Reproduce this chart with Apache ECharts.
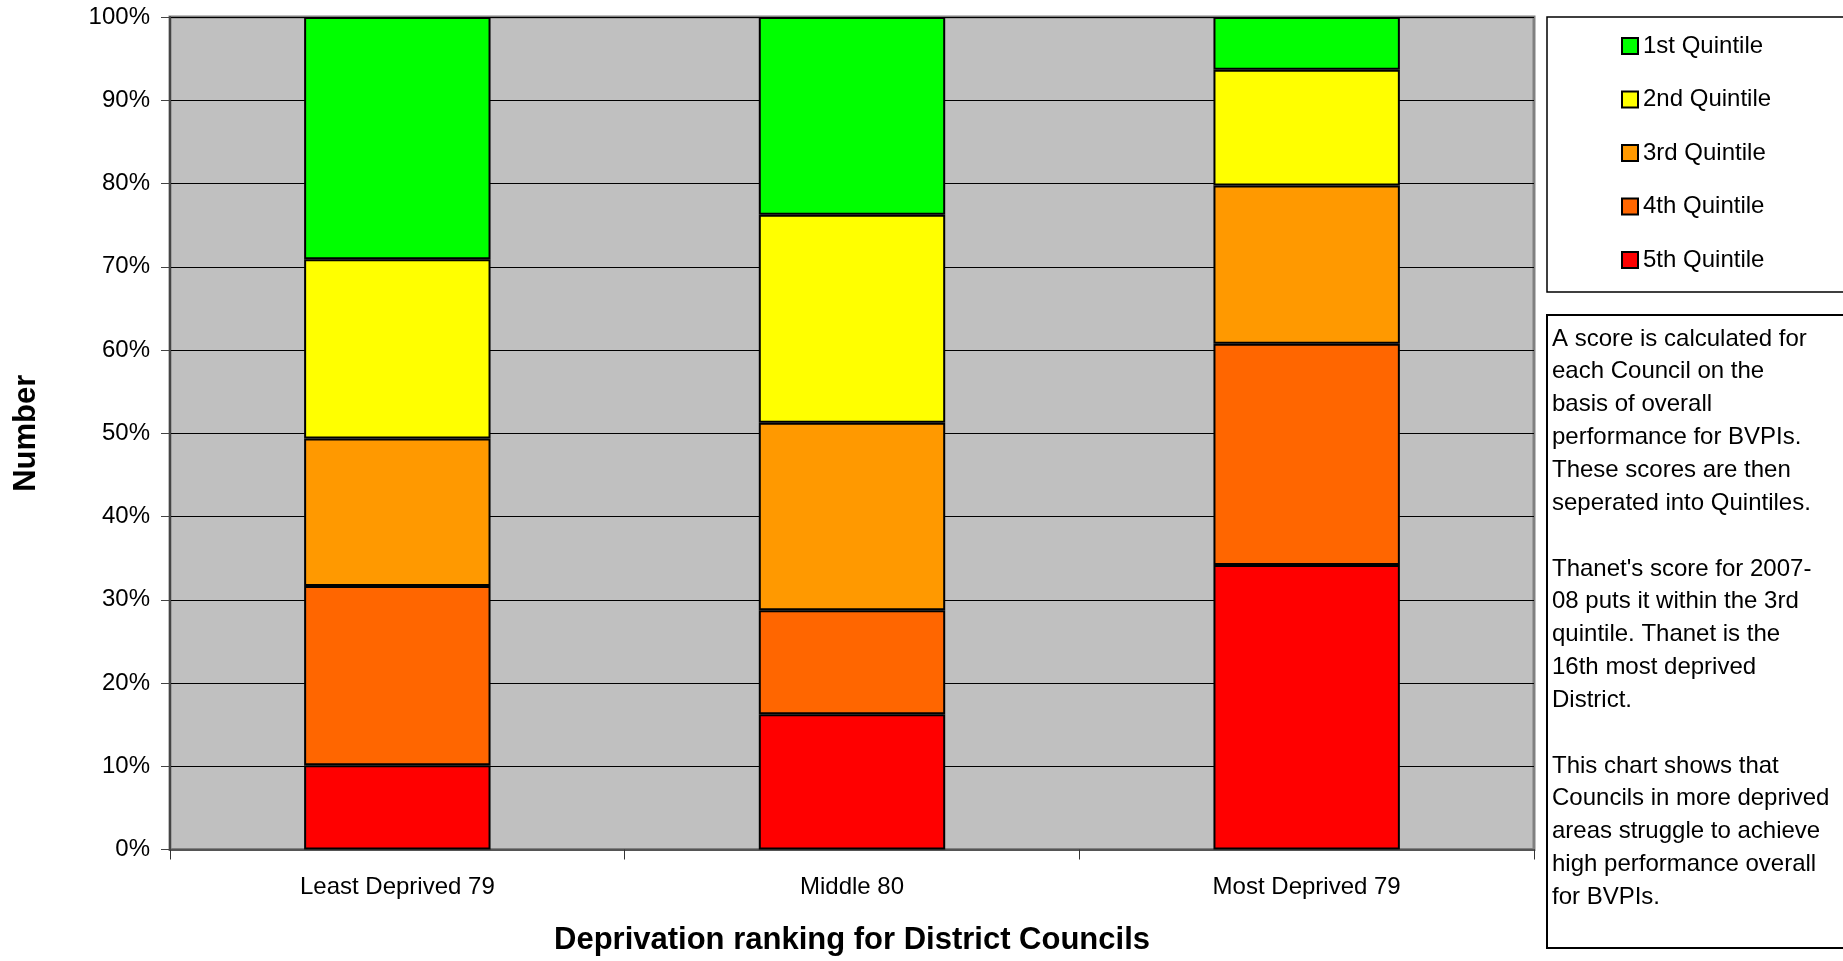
<!DOCTYPE html>
<html>
<head>
<meta charset="utf-8">
<title>Deprivation ranking for District Councils</title>
<script src="https://cdn.jsdelivr.net/npm/echarts@6/dist/echarts.min.js"></script>
<style>
  html, body { margin: 0; padding: 0; background: #ffffff; }
  #chart { width: 1843px; height: 961px; }
</style>
</head>
<body>
<div id="chart"></div>
<script>
// Deprivation groups of District Councils
var categories = ['Least Deprived 79', 'Middle 80', 'Most Deprived 79'];

// Number of councils in each performance quintile, per deprivation group
var quintileNames = ['1st Quintile', '2nd Quintile', '3rd Quintile', '4th Quintile', '5th Quintile'];
var q1 = [23, 19, 5];
var q2 = [17, 20, 11];
var q3 = [14, 18, 15];
var q4 = [17, 10, 21];
var q5 = [8, 13, 27];
var quintileColors = ['#00FF00', '#FFFF00', '#FF9900', '#FF6600', '#FF0000'];

var noteText = [
  'A score is calculated for',
  'each Council on the',
  'basis of overall',
  'performance for BVPIs.',
  'These scores are then',
  'seperated into Quintiles.',
  '',
  "Thanet's score for 2007-",
  '08 puts it within the 3rd',
  'quintile. Thanet is the',
  '16th most deprived',
  'District.',
  '',
  'This chart shows that',
  'Councils in more deprived',
  'areas struggle to achieve',
  'high performance overall',
  'for BVPIs.'
];

var counts = [q1, q2, q3, q4, q5];
var totals = categories.map(function (_, i) {
  return counts.reduce(function (s, arr) { return s + arr[i]; }, 0);
});
function shares(arr) {
  return arr.map(function (v, i) { return v / totals[i] * 100; });
}

var FONT = '"Liberation Sans", Arial, sans-serif';

// stacked bottom-up: 5th quintile at the base, 1st on top
var series = [];
for (var k = counts.length - 1; k >= 0; k--) {
  series.push({
    name: quintileNames[k],
    type: 'bar',
    stack: 'share',
    barWidth: '41%',
    data: shares(counts[k]),
    itemStyle: { color: quintileColors[k], borderColor: '#000000', borderWidth: 2 }
  });
}

var chart = echarts.init(document.getElementById('chart'), null, { renderer: 'canvas' });
chart.setOption({
  animation: false,
  backgroundColor: '#ffffff',
  textStyle: { fontFamily: FONT, color: '#000' },
  grid: {
    left: 170, right: 309, top: 17, bottom: 111,
    show: true, backgroundColor: '#C0C0C0', borderColor: '#808080', borderWidth: 3
  },
  xAxis: {
    type: 'category',
    data: categories,
    name: 'Deprivation ranking for District Councils',
    nameLocation: 'middle',
    nameGap: 75.5,
    nameTextStyle: { fontFamily: FONT, fontSize: 31, fontWeight: 'bold', color: '#000' },
    axisLine: { lineStyle: { color: '#555555', width: 2 } },
    axisTick: { show: true, length: 10, lineStyle: { color: '#333', width: 1 } },
    axisLabel: { fontFamily: FONT, fontSize: 24, color: '#000', margin: 25.5 },
    splitLine: { show: false }
  },
  yAxis: {
    type: 'value',
    min: 0, max: 100, interval: 10,
    name: 'Number',
    nameLocation: 'middle',
    nameRotate: 90,
    nameGap: 128,
    nameTextStyle: { fontFamily: FONT, fontSize: 31, fontWeight: 'bold', color: '#000' },
    axisLine: { show: true, lineStyle: { color: '#444444', width: 2 } },
    axisTick: { show: true, length: 9, lineStyle: { color: '#444', width: 1 } },
    axisLabel: { fontFamily: FONT, fontSize: 24, color: '#000', margin: 20, formatter: '{value}%' },
    splitLine: { show: true, lineStyle: { color: '#000000', width: 1 } }
  },
  legend: {
    orient: 'vertical',
    left: 1616,
    top: 29,
    data: quintileNames,
    icon: 'rect',
    itemWidth: 16,
    itemHeight: 16,
    itemGap: 29.5,
    selectedMode: false,
    textStyle: { fontFamily: FONT, fontSize: 24, color: '#000' }
  },
  graphic: [
    {
      type: 'rect', z: 0,
      shape: { x: 1547, y: 17, width: 320, height: 275 },
      style: { fill: '#ffffff', stroke: '#000000', lineWidth: 1.5 }
    },
    {
      type: 'rect', z: 0,
      shape: { x: 1547, y: 315, width: 320, height: 633 },
      style: { fill: '#ffffff', stroke: '#000000', lineWidth: 2 }
    },
    {
      type: 'text', z: 1,
      x: 1552, y: 322.5,
      style: {
        text: noteText.join('\n'),
        font: '24px ' + FONT,
        fill: '#000',
        lineHeight: 32.85
      }
    }
  ],
  series: series
});
</script>
</body>
</html>
